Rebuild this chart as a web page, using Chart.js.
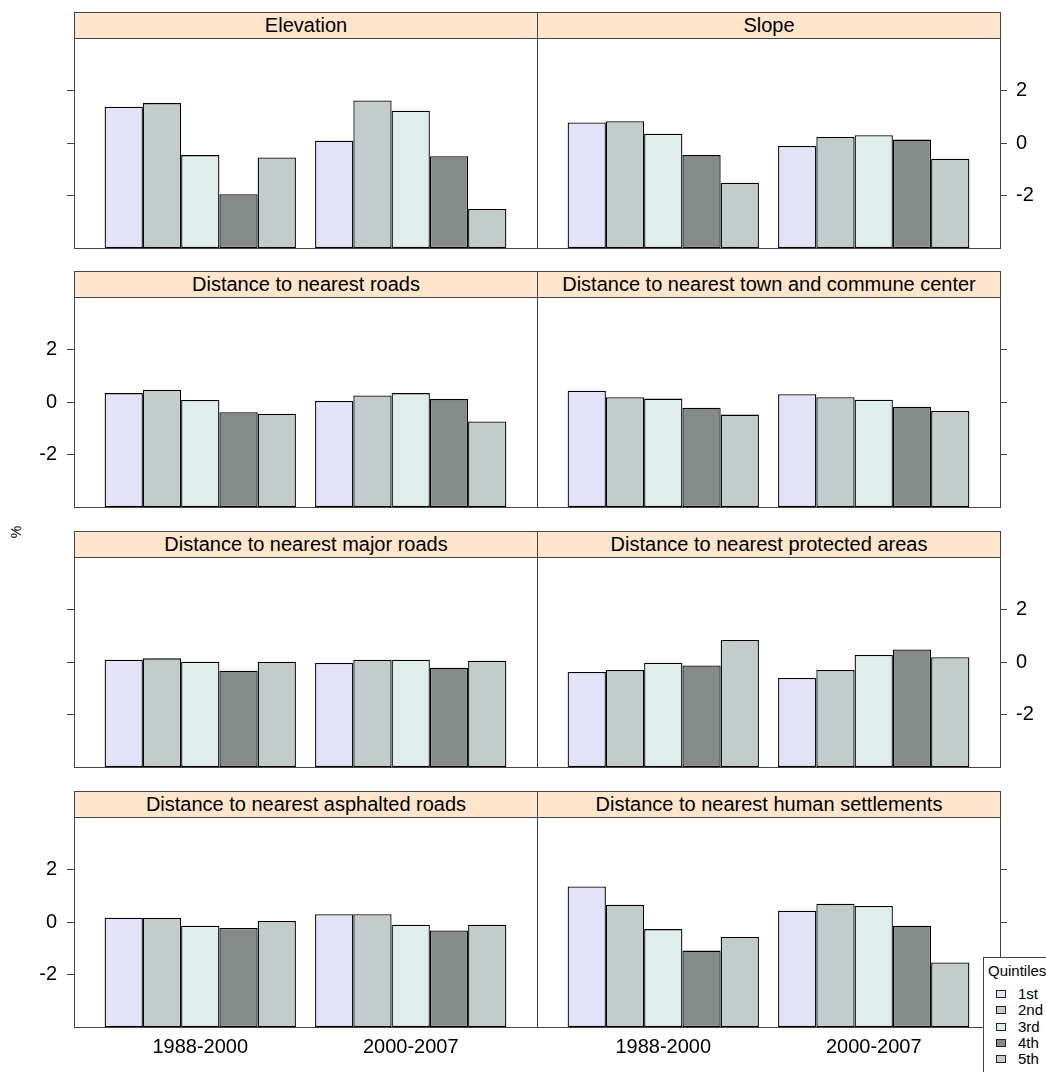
<!DOCTYPE html>
<html>
<head>
<meta charset="utf-8">
<script src="https://cdn.jsdelivr.net/npm/chart.js@4.4.0/dist/chart.umd.min.js"></script>
<style>
html,body{margin:0;padding:0;background:#fff;}
body{width:1046px;height:1072px;position:relative;overflow:hidden;font-family:"Liberation Sans",Arial,sans-serif;}
canvas{position:absolute;}
.strip{position:absolute;box-sizing:border-box;background:#ffe5cc;border:1px solid #444;font-size:20px;line-height:25px;text-align:center;color:#000;white-space:nowrap;overflow:hidden;}
#ytitle{position:absolute;left:16px;top:532px;transform:translate(-50%,-50%) rotate(-90deg);font-size:14px;color:#000;white-space:nowrap;}
#legend{position:absolute;left:983px;top:957px;width:80px;height:130px;box-sizing:border-box;border:1px solid #444;background:#fff;z-index:5;}
#legend .ttl{position:absolute;left:4px;top:5px;font-size:15px;line-height:16px;color:#000;}
#legend .item{position:absolute;left:0;height:16px;width:80px;font-size:15px;line-height:16px;color:#000;}
#legend .sw{position:absolute;left:12px;top:4px;width:10px;height:8px;box-sizing:border-box;border:1px solid #222;}
#legend .lb{position:absolute;left:34px;top:0;}
</style>
</head>
<body>
<div id="ytitle">%</div>
<div id="legend"><div class="ttl">Quintiles</div></div>
<script>
// ---- categories / labels ----
const PERIODS = ['1988-2000', '2000-2007'];
const PERIOD_POS = [1, 2];
const QUINTILES = ['1st', '2nd', '3rd', '4th', '5th'];
const PANEL_TITLES = [
  'Elevation',
  'Slope',
  'Distance to nearest roads',
  'Distance to nearest town and commune center',
  'Distance to nearest major roads',
  'Distance to nearest protected areas',
  'Distance to nearest asphalted roads',
  'Distance to nearest human settlements'
];
const Y_TICKS = [-2, 0, 2];
const LEGEND_TITLE = 'Quintiles';
const Y_TITLE = '%';

// ---- series values (quintiles 1st..5th) ----
const elevation_1988_2000 = [1.38, 1.52, -0.46, -1.95, -0.55];
const elevation_2000_2007 = [0.09, 1.62, 1.23, -0.50, -2.51];
const slope_1988_2000 = [0.78, 0.83, 0.35, -0.46, -1.51];
const slope_2000_2007 = [-0.11, 0.23, 0.30, 0.13, -0.60];
const roads_1988_2000 = [0.34, 0.47, 0.08, -0.39, -0.45];
const roads_2000_2007 = [0.04, 0.25, 0.34, 0.11, -0.74];
const town_1988_2000 = [0.43, 0.18, 0.13, -0.22, -0.48];
const town_2000_2007 = [0.30, 0.18, 0.09, -0.18, -0.34];
const majorRoads_1988_2000 = [0.09, 0.14, 0.01, -0.33, 0.01];
const majorRoads_2000_2007 = [-0.04, 0.09, 0.09, -0.22, 0.05];
const protected_1988_2000 = [-0.38, -0.30, -0.03, -0.13, 0.84];
const protected_2000_2007 = [-0.61, -0.30, 0.27, 0.48, 0.18];
const asphalted_1988_2000 = [0.16, 0.16, -0.14, -0.23, 0.04];
const asphalted_2000_2007 = [0.30, 0.30, -0.10, -0.32, -0.10];
const settlements_1988_2000 = [1.35, 0.66, -0.27, -1.09, -0.57];
const settlements_2000_2007 = [0.43, 0.70, 0.61, -0.14, -1.54];

const PANEL_DATA = [
  [elevation_1988_2000, elevation_2000_2007],
  [slope_1988_2000, slope_2000_2007],
  [roads_1988_2000, roads_2000_2007],
  [town_1988_2000, town_2000_2007],
  [majorRoads_1988_2000, majorRoads_2000_2007],
  [protected_1988_2000, protected_2000_2007],
  [asphalted_1988_2000, asphalted_2000_2007],
  [settlements_1988_2000, settlements_2000_2007]
];

// ---- styles / layout ----
const Y_MIN = -4, Y_MAX = 4;
const X_MIN = 0.4, X_MAX = 2.6;
const QUINTILE_COLORS = ['#e3e3f8', '#c1cccb', '#dfeded', '#858b89', '#c1cccb'];
const COL_LEFT = [74, 537];
const PANEL_W = 463;
const ROW_TOP = [38, 297, 557, 817];
const PANEL_H = 210;
const STRIP_H = 26;
const FONT = '"Liberation Sans", Arial, sans-serif';

document.getElementById('ytitle').textContent = Y_TITLE;

const framePlugin = {
  id: 'frame',
  afterDatasetsDraw(chart) {
    const a = chart.chartArea, ctx = chart.ctx;
    ctx.save();
    ctx.strokeStyle = '#444';
    ctx.lineWidth = 1;
    ctx.strokeRect(Math.round(a.left) + 0.5, Math.round(a.top) + 0.5,
                   Math.round(a.right - a.left), Math.round(a.bottom - a.top));
    ctx.restore();
  }
};

PANEL_TITLES.forEach((title, i) => {
  const col = i % 2, row = Math.floor(i / 2);
  const lastRow = row === 3;
  const showY = (row % 2 === 0) ? col === 1 : col === 0;

  // strip
  const strip = document.createElement('div');
  strip.className = 'strip';
  strip.style.left = COL_LEFT[col] + 'px';
  strip.style.top = (ROW_TOP[row] - STRIP_H) + 'px';
  strip.style.width = (PANEL_W + 1) + 'px';
  strip.style.height = (STRIP_H + 1) + 'px';
  strip.textContent = title;
  document.body.appendChild(strip);

  // canvas
  const xH = lastRow ? 45 : 3;
  const cLeft = col === 0 ? 0 : 534;
  const cWidth = col === 0 ? 540 : 512;
  const cTop = ROW_TOP[row] - 3;
  const cHeight = 3 + PANEL_H + xH;
  const canvas = document.createElement('canvas');
  canvas.width = cWidth; canvas.height = cHeight;
  canvas.style.left = cLeft + 'px'; canvas.style.top = cTop + 'px';
  canvas.style.width = cWidth + 'px'; canvas.style.height = cHeight + 'px';
  document.body.appendChild(canvas);

  new Chart(canvas, {
    type: 'bar',
    data: {
      datasets: QUINTILES.map((q, qi) => ({
        label: q,
        data: PERIOD_POS.map((p, pi) => ({ x: p, y: PANEL_DATA[i][pi][qi] })),
        backgroundColor: QUINTILE_COLORS[qi],
        borderColor: '#000',
        borderWidth: 1.3,
        borderSkipped: false,
        base: Y_MIN,
        categoryPercentage: 0.909,
        barPercentage: 1.0
      }))
    },
    options: {
      responsive: false,
      animation: false,
      devicePixelRatio: 1,
      layout: { padding: col === 0 ? { left: 0, right: 3, top: 3, bottom: 0 } : { left: 3, right: 0, top: 3, bottom: 0 } },
      plugins: { legend: { display: false }, tooltip: { enabled: false } },
      scales: {
        x: {
          type: 'linear', min: X_MIN, max: X_MAX, offset: false,
          afterBuildTicks: s => { s.ticks = PERIOD_POS.map(v => ({ value: v })); },
          afterFit: s => { s.height = xH; s.paddingLeft = 0; s.paddingRight = 0; },
          grid: { display: false, drawTicks: false },
          border: { display: false },
          ticks: {
            display: lastRow, autoSkip: false, maxRotation: 0, minRotation: 0,
            callback: (v, idx) => PERIODS[idx],
            color: '#000', font: { family: FONT, size: 20 }, padding: 8
          }
        },
        y: {
          type: 'linear', position: col === 0 ? 'left' : 'right', min: Y_MIN, max: Y_MAX,
          afterBuildTicks: s => { s.ticks = Y_TICKS.map(v => ({ value: v })); },
          afterFit: s => { s.width = col === 0 ? 74 : 46; s.paddingTop = 0; s.paddingBottom = 0; },
          grid: { drawOnChartArea: false, drawTicks: true, tickLength: 7, color: '#444', lineWidth: 1 },
          border: { display: false },
          ticks: {
            display: showY, color: '#000', font: { family: FONT, size: 20 },
            padding: col === 0 ? 10 : 9
          }
        }
      }
    },
    plugins: [framePlugin]
  });
});

// legend
const legend = document.getElementById('legend');
legend.querySelector('.ttl').textContent = LEGEND_TITLE;
QUINTILES.forEach((q, qi) => {
  const it = document.createElement('div');
  it.className = 'item';
  it.style.top = (28 + qi * 16.3) + 'px';
  const sw = document.createElement('div');
  sw.className = 'sw';
  sw.style.background = QUINTILE_COLORS[qi];
  const lb = document.createElement('div');
  lb.className = 'lb';
  lb.textContent = q;
  it.appendChild(sw); it.appendChild(lb);
  legend.appendChild(it);
});
</script>
</body>
</html>
